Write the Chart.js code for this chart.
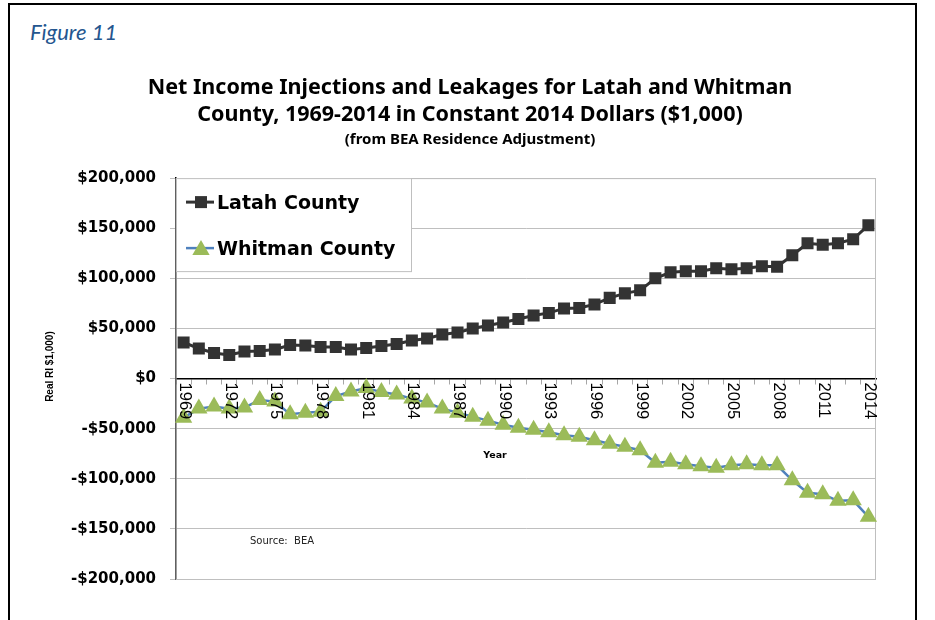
<!DOCTYPE html>
<html>
<head>
<meta charset="utf-8">
<script src="https://cdn.jsdelivr.net/npm/chart.js@4.4.1/dist/chart.umd.min.js"></script>
<style>
    html, body { margin: 0; padding: 0; background: #ffffff; }
    #wrap { position: relative; width: 935px; height: 620px; overflow: hidden; }
    #frame { position: absolute; left: 8px; top: 3px; width: 909px; height: 660px; border: 2px solid #000; box-sizing: border-box; }
    #fig { position: absolute; left: 30px; top: 19px; font: italic 22px Lato, sans-serif; line-height: 26px; color: #24568f; }
    #historyChart { position: absolute; left: 0; top: 0; }
</style>
</head>
<body>
<div id="wrap">
    <div id="frame"></div>
    <div id="fig">Figure 11</div>
    <canvas id="historyChart" width="935" height="620"></canvas>
</div>
<script>
    // values, $1,000 (constant 2014 dollars)
    const YEARS = ['1969', '1970', '1971', '1972', '1973', '1974', '1975', '1976', '1977', '1978',
        '1979', '1980', '1981', '1982', '1983', '1984', '1985', '1986', '1987', '1988',
        '1989', '1990', '1991', '1992', '1993', '1994', '1995', '1996', '1997', '1998',
        '1999', '2000', '2001', '2002', '2003', '2004', '2005', '2006', '2007', '2008',
        '2009', '2010', '2011', '2012', '2013', '2014'];
    const LATAH = [36000, 30000, 25500, 23500, 27000, 27500, 29000, 33500, 33000, 31500,
        31500, 29000, 30500, 32500, 34500, 38000, 40000, 44000, 46000, 50000,
        53000, 56000, 59500, 63000, 65500, 70000, 70500, 74000, 80500, 85000,
        88000, 100000, 106000, 107000, 107000, 110000, 109000, 110000, 112000, 111500,
        123000, 135000, 133500, 135000, 139000, 153000];
    const WHITMAN = [-39000, -30000, -28000, -30000, -29000, -21500, -23000, -35500, -34000, -33000,
        -17500, -13000, -9500, -13500, -16000, -20000, -24000, -30000, -34000, -38000,
        -42000, -46000, -49000, -51000, -53500, -56500, -58000, -61500, -65000, -68000,
        -71500, -84000, -83000, -85500, -87500, -89000, -86500, -85500, -86500, -86500,
        -101500, -114000, -115500, -122000, -121500, -138000];
    const YEAR_LABELS = ['1969', '1972', '1975', '1978', '1981', '1984', '1987', '1990',
        '1993', '1996', '1999', '2002', '2005', '2008', '2011', '2014'];
    const SERIES_NAMES = ['Latah County', 'Whitman County'];

    const TITLE_FONT = 'Noto Sans';
    const BODY_FONT = 'DejaVu Sans';
    const LATAH_COLOR = '#333333';
    const WHITMAN_LINE = '#4f81bd';
    const WHITMAN_MARK = '#9bbb59';

    Chart.defaults.font.family = BODY_FONT;
    Chart.defaults.color = '#000000';

    function formatDollars(v) {
        return (v < 0 ? '-$' : '$') + Math.abs(v).toLocaleString('en-US');
    }

    // year labels sit under the zero line, rotated to read top to bottom
    const yearLabels = {
        id: 'yearLabels',
        afterDatasetsDraw(chart) {
            const ctx = chart.ctx;
            const xs = chart.scales.x;
            const y0 = chart.scales.y.getPixelForValue(0);
            ctx.save();
            ctx.fillStyle = '#000';
            ctx.font = '16.5px "Liberation Sans"';
            ctx.textAlign = 'left';
            ctx.textBaseline = 'middle';
            YEAR_LABELS.forEach(lbl => {
                const x = xs.getPixelForValue(YEARS.indexOf(lbl));
                ctx.save();
                ctx.translate(x + 1, y0 + 4);
                ctx.rotate(Math.PI / 2);
                ctx.fillText(lbl, 0, 0);
                ctx.restore();
            });
            ctx.restore();
        }
    };

    // plot frame, axis titles, source note
    const extras = {
        id: 'extras',
        beforeDatasetsDraw(chart) {
            const {ctx, chartArea: ca} = chart;
            ctx.save();
            ctx.strokeStyle = '#bfbfbf';
            ctx.lineWidth = 1;
            ctx.strokeRect(ca.left, ca.top + 0.5, ca.right - ca.left - 0.5, ca.bottom - ca.top);
            ctx.restore();
        },
        afterDatasetsDraw(chart) {
            const {ctx, chartArea: ca} = chart;
            ctx.save();
            ctx.fillStyle = '#000';
            ctx.font = 'bold 9.5px "DejaVu Sans"';
            ctx.textAlign = 'center';
            ctx.textBaseline = 'middle';
            ctx.fillText('Year', ca.left + 319, ca.top + 277);

            ctx.font = '10px "DejaVu Sans"';
            ctx.fillStyle = '#222';
            ctx.textAlign = 'left';
            ctx.fillText('Source:  BEA', ca.left + 74, ca.top + 363);

            ctx.fillStyle = '#000';
            ctx.font = 'bold 10px "Liberation Sans"';
            ctx.textAlign = 'center';
            ctx.translate(50, (ca.top + ca.bottom) / 2 - 12);
            ctx.rotate(-Math.PI / 2);
            ctx.fillText('Real RI $1,000)', 0, 0);
            ctx.restore();
        }
    };

    // legend box drawn inside the plot, top left
    const boxLegend = {
        id: 'boxLegend',
        afterDraw(chart) {
            const {ctx, chartArea: ca} = chart;
            const ds = chart.data.datasets;
            ctx.save();
            ctx.fillStyle = '#ffffff';
            ctx.fillRect(ca.left, ca.top, 235, 93);
            ctx.strokeStyle = '#bfbfbf';
            ctx.lineWidth = 1;
            ctx.strokeRect(ca.left + 0.5, ca.top + 0.5, 235, 93);

            const rows = [{line: ca.top + 24, mark: ca.top + 24, text: ca.top + 30.5},
                          {line: ca.top + 70, mark: ca.top + 72, text: ca.top + 77}];
            const mx = ca.left + 25;
            rows.forEach((r, i) => {
                const d = ds[i];
                ctx.strokeStyle = d.borderColor;
                ctx.lineWidth = d.borderWidth;
                ctx.beginPath();
                ctx.moveTo(ca.left + 10, r.line);
                ctx.lineTo(ca.left + 38, r.line);
                ctx.stroke();
                ctx.fillStyle = d.pointBackgroundColor;
                ctx.beginPath();
                const rad = d.pointRadius;
                if (d.pointStyle === 'rect') {
                    const s = rad * Math.SQRT1_2;
                    ctx.rect(mx - s, r.mark - s, 2 * s, 2 * s);
                } else {
                    ctx.moveTo(mx, r.mark - rad);
                    ctx.lineTo(mx + Math.sin(2 * Math.PI / 3) * rad, r.mark + rad / 2);
                    ctx.lineTo(mx - Math.sin(2 * Math.PI / 3) * rad, r.mark + rad / 2);
                    ctx.closePath();
                }
                ctx.fill();
                ctx.fillStyle = '#000';
                ctx.font = 'bold 19px "DejaVu Sans"';
                ctx.textAlign = 'left';
                ctx.textBaseline = 'alphabetic';
                ctx.fillText(SERIES_NAMES[i], ca.left + 41, r.text);
            });
            ctx.restore();
        }
    };

    const ctx = document.getElementById('historyChart').getContext('2d');
    new Chart(ctx, {
        type: 'line',
        data: {
            labels: YEARS,
            datasets: [{
                label: SERIES_NAMES[0],
                data: LATAH,
                borderColor: LATAH_COLOR,
                borderWidth: 3,
                pointStyle: 'rect',
                pointRadius: 8.5,
                pointBackgroundColor: LATAH_COLOR,
                pointBorderColor: LATAH_COLOR,
                pointBorderWidth: 0,
                tension: 0
            }, {
                label: SERIES_NAMES[1],
                data: WHITMAN,
                borderColor: WHITMAN_LINE,
                borderWidth: 2.5,
                pointStyle: 'triangle',
                pointRadius: 10,
                pointBackgroundColor: WHITMAN_MARK,
                pointBorderColor: WHITMAN_MARK,
                pointBorderWidth: 0,
                tension: 0
            }]
        },
        options: {
            responsive: false,
            animation: false,
            layout: { padding: { left: 64, right: 59, top: 0, bottom: 41 } },
            plugins: {
                legend: { display: false },
                tooltip: { enabled: false },
                title: {
                    display: true,
                    text: ['Net Income Injections and Leakages for Latah and Whitman',
                           'County, 1969-2014 in Constant 2014 Dollars ($1,000)'],
                    color: '#000',
                    font: { family: TITLE_FONT, size: 21.5, weight: 'bold', lineHeight: 1.27 },
                    padding: { top: 74, bottom: 1 }
                },
                subtitle: {
                    display: true,
                    text: '(from BEA Residence Adjustment)',
                    color: '#000',
                    font: { family: TITLE_FONT, size: 15, weight: 'bold', lineHeight: 1.2 },
                    padding: { top: 1, bottom: 29.5 }
                }
            },
            scales: {
                x: {
                    position: { y: 0 },
                    offset: true,
                    afterFit(scale) { scale.height = 0; },
                    grid: { offset: true, drawOnChartArea: false, drawTicks: true, tickLength: 5, color: '#a6a6a6' },
                    border: { display: true, color: '#000', width: 1.5 },
                    ticks: { display: false, autoSkip: false }
                },
                y: {
                    min: -200000,
                    max: 200000,
                    afterFit(scale) { scale.width = 112; },
                    grid: { color: '#bfbfbf', tickLength: 6 },
                    border: { color: '#000', width: 1.5 },
                    ticks: {
                        stepSize: 50000,
                        padding: 14,
                        color: '#000',
                        font: { family: BODY_FONT, size: 15, weight: 'bold' },
                        callback: v => formatDollars(v)
                    }
                }
            }
        },
        plugins: [extras, yearLabels, boxLegend]
    });
</script>
</body>
</html>
